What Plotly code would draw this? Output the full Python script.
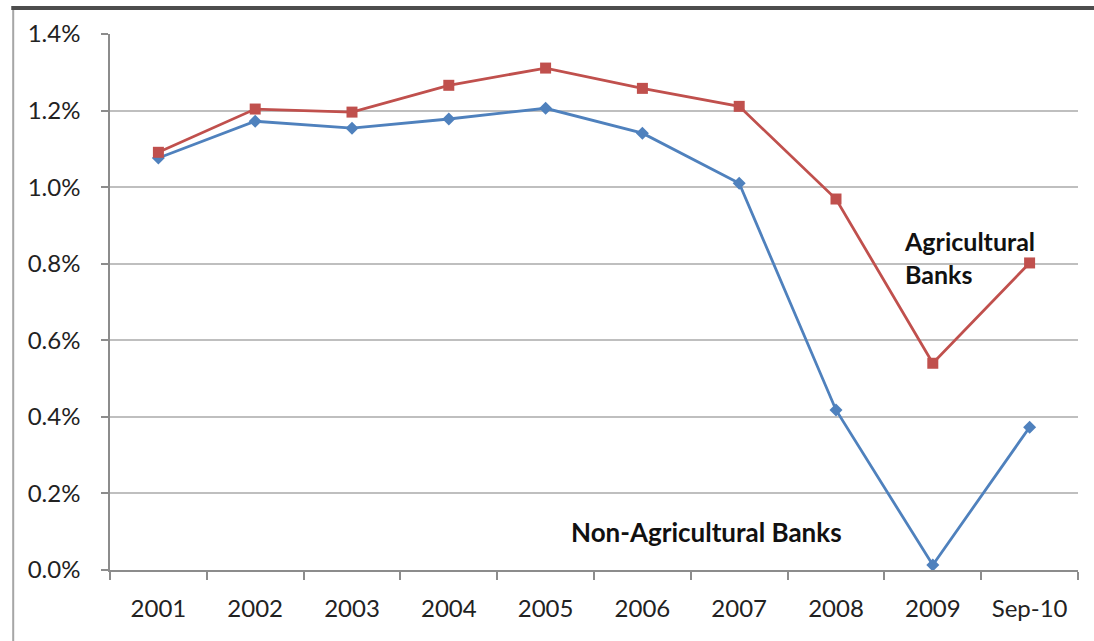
import plotly.graph_objects as go

# Return on assets by year, percent
years = ["2001", "2002", "2003", "2004", "2005", "2006", "2007", "2008", "2009", "Sep-10"]
agricultural = [1.091, 1.204, 1.196, 1.266, 1.311, 1.258, 1.211, 0.969, 0.540, 0.802]
non_agricultural = [1.076, 1.172, 1.154, 1.178, 1.206, 1.141, 1.010, 0.418, 0.013, 0.373]
y_ticks = [0.0, 0.2, 0.4, 0.6, 0.8, 1.0, 1.2, 1.4]
y_tick_text = [f"{v:.1f}%" for v in y_ticks]

RED = "#C0504D"
BLUE = "#4F81BD"
GRID = "#BFBFBF"
FONT = "Lato"

fig = go.Figure()
fig.add_trace(go.Scatter(
    x=years, y=non_agricultural, mode="lines+markers", name="Non-Agricultural Banks",
    line=dict(color=BLUE, width=2.8),
    marker=dict(symbol="diamond", size=10, color=BLUE),
))
fig.add_trace(go.Scatter(
    x=years, y=agricultural, mode="lines+markers", name="Agricultural Banks",
    line=dict(color=RED, width=2.8),
    marker=dict(symbol="square", size=11, color=RED),
))

# Series labels (x given as category index)
fig.add_annotation(
    x=9, y=0.815, xref="x", yref="y", text="<b>Agricultural<br>Banks</b>",
    showarrow=False, xanchor="left", yanchor="middle", align="left",
    xshift=-128, font=dict(family=FONT, size=25, color="#111111"),
)
fig.add_annotation(
    x=6, y=0.099, xref="x", yref="y", text="<b>Non-Agricultural Banks</b>",
    showarrow=False, xanchor="center", yanchor="middle",
    xshift=-33, font=dict(family=FONT, size=26, color="#111111"),
)

# Outer frame: heavy top rule and light left edge
fig.add_shape(type="line", xref="paper", yref="paper", x0=-0.102, x1=1.02, y0=1.0485, y1=1.0485,
              line=dict(color="#4D4D4D", width=4))
fig.add_shape(type="line", xref="paper", yref="paper", x0=-0.1, x1=-0.1, y0=-0.14, y1=1.045,
              line=dict(color="#A6A6A6", width=2))

fig.update_layout(
    width=1094, height=641,
    margin=dict(l=110, r=16, t=34, b=71),
    paper_bgcolor="white", plot_bgcolor="white",
    showlegend=False,
    font=dict(family=FONT, size=24, color="#222222"),
)
fig.update_xaxes(
    type="category", showgrid=False, showline=True, linecolor="#8C8C8C", linewidth=1.5,
    ticks="outside", tickson="boundaries", ticklen=8, tickcolor="#8C8C8C", tickwidth=1.5,
    ticklabelstandoff=16,
    tickfont=dict(family=FONT, size=24, color="#222222"), range=[-0.5, 9.5],
)
fig.update_yaxes(
    range=[0, 1.4], tickvals=y_ticks, ticktext=y_tick_text,
    showgrid=True, gridcolor=GRID, gridwidth=1.5, zeroline=False,
    showline=True, linecolor="#8C8C8C", linewidth=1.5,
    ticks="outside", ticklen=7, tickcolor="#8C8C8C", tickwidth=1.5,
    ticklabelstandoff=16,
    tickfont=dict(family=FONT, size=24, color="#222222"),
)

fig.write_html("out.html")
